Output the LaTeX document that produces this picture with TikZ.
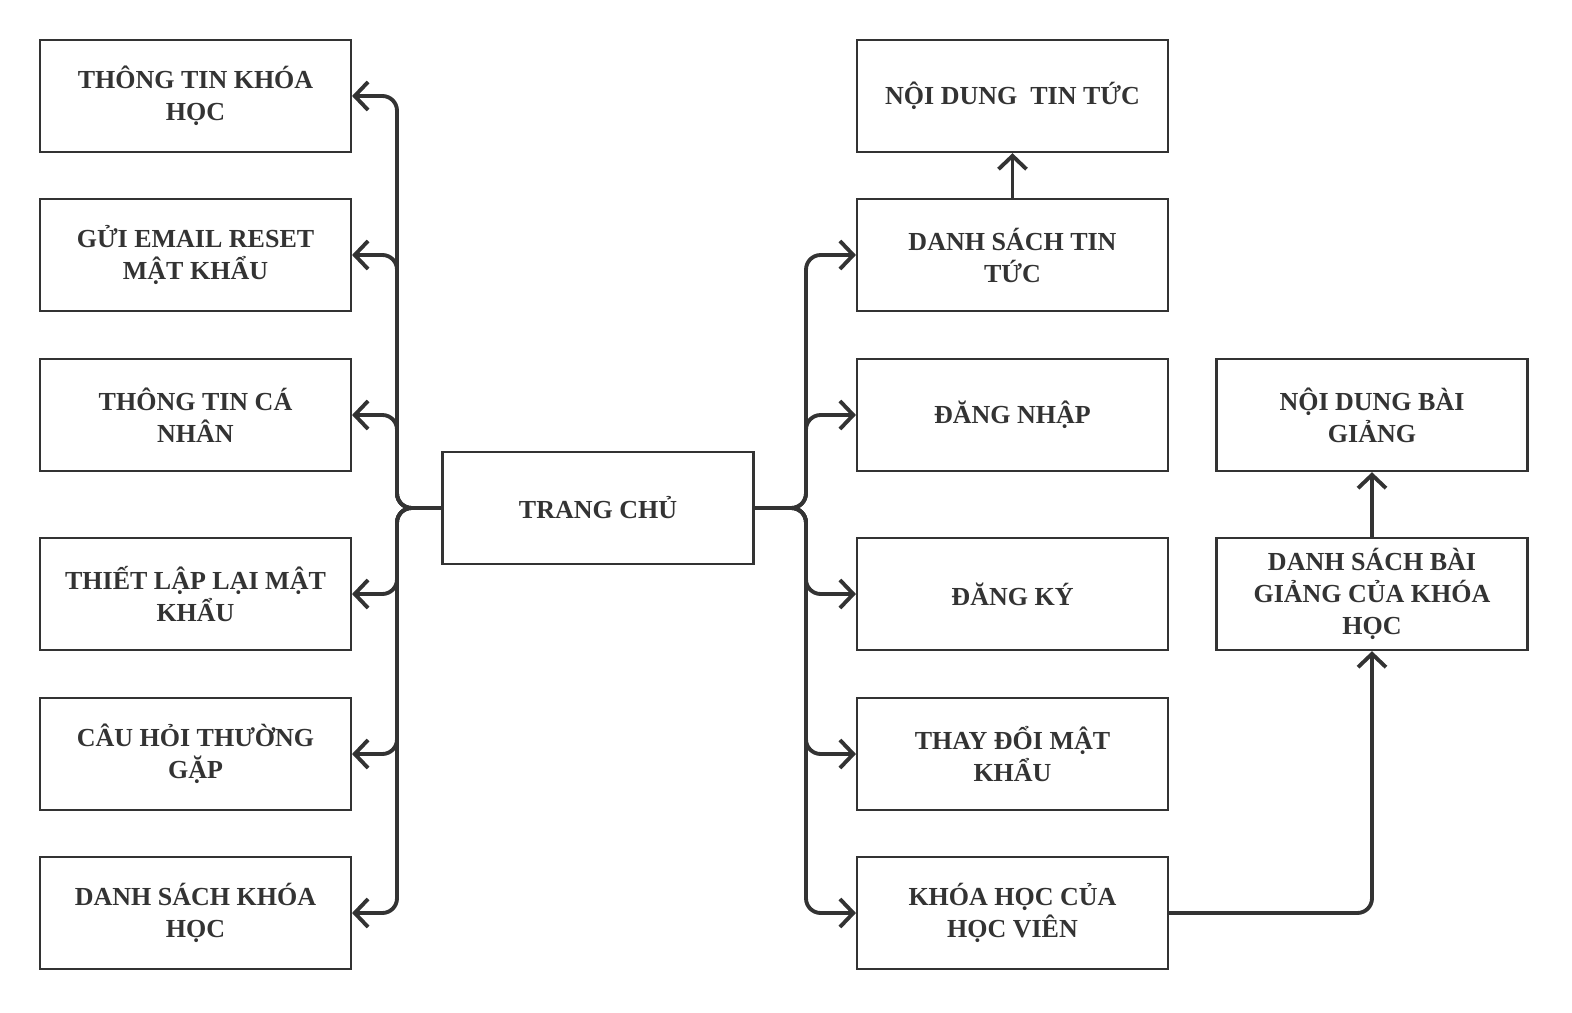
\documentclass[tikz,border=0pt]{standalone}
\usepackage{fontspec}
\setmainfont{Liberation Serif}
\usetikzlibrary{arrows.meta}
\definecolor{ink}{HTML}{333333}
\tikzset{
  box/.style={draw=ink, line width=1.8pt, minimum width=233pt, minimum height=84pt,
    inner sep=0pt, align=center, text=ink,
    font=\fontsize{19.5}{24}\selectfont\bfseries},
  conn/.style={draw=ink, line width=2.9pt, rounded corners=11pt,
    -{Straight Barb[length=10pt,width=21pt,line width=2.9pt]}},
}
\begin{document}
\begin{tikzpicture}[x=0.75pt,y=-0.75pt]
\useasboundingbox (0,0) rectangle (1572,1013);
% left column
\node[box] (l1) at (195.5,96) {THÔNG TIN KHÓA\\HỌC};
\node[box] (l2) at (195.5,255) {GỬI EMAIL RESET\\MẬT KHẨU};
\node[box] (l3) at (195.5,415) {THÔNG TIN CÁ\\NHÂN};
\node[box] (l4) at (195.5,594) {THIẾT LẬP LẠI MẬT\\KHẨU};
\node[box] (l5) at (195.5,754) {CÂU HỎI THƯỜNG\\GẶP};
\node[box] (l6) at (195.5,913) {DANH SÁCH KHÓA\\HỌC};
% center
\node[box] (tc) at (598,508) {TRANG CHỦ};
% right column
\node[box] (r1) at (1012.5,96) {NỘI DUNG\ \ TIN TỨC};
\node[box] (r2) at (1012.5,255) {DANH SÁCH TIN\\TỨC};
\node[box] (r3) at (1012.5,415) {ĐĂNG NHẬP};
\node[box] (r4) at (1012.5,594) {ĐĂNG KÝ};
\node[box] (r5) at (1012.5,754) {THAY ĐỔI MẬT\\KHẨU};
\node[box] (r6) at (1012.5,913) {KHÓA HỌC CỦA\\HỌC VIÊN};
% far right
\node[box] (f1) at (1372,415) {NỘI DUNG BÀI\\GIẢNG};
\node[box] (f2) at (1372,594) {DANH SÁCH BÀI\\GIẢNG CỦA KHÓA\\HỌC};
% bus points
\coordinate (lb) at (397,508);
\coordinate (rb) at (806,508);
% left connectors
\foreach \n in {l1,l2,l3,l4,l5,l6}
  \draw[conn] (tc.west) -- (lb) |- (\n.east);
% right connectors
\foreach \n in {r2,r3,r4,r5,r6}
  \draw[conn] (tc.east) -- (rb) |- (\n.west);
\draw[conn] (r2.north) -- (r1.south);
\draw[conn] (r6.east) -| (f2.south);
\draw[conn] (f2.north) -- (f1.south);
\end{tikzpicture}
\end{document}
